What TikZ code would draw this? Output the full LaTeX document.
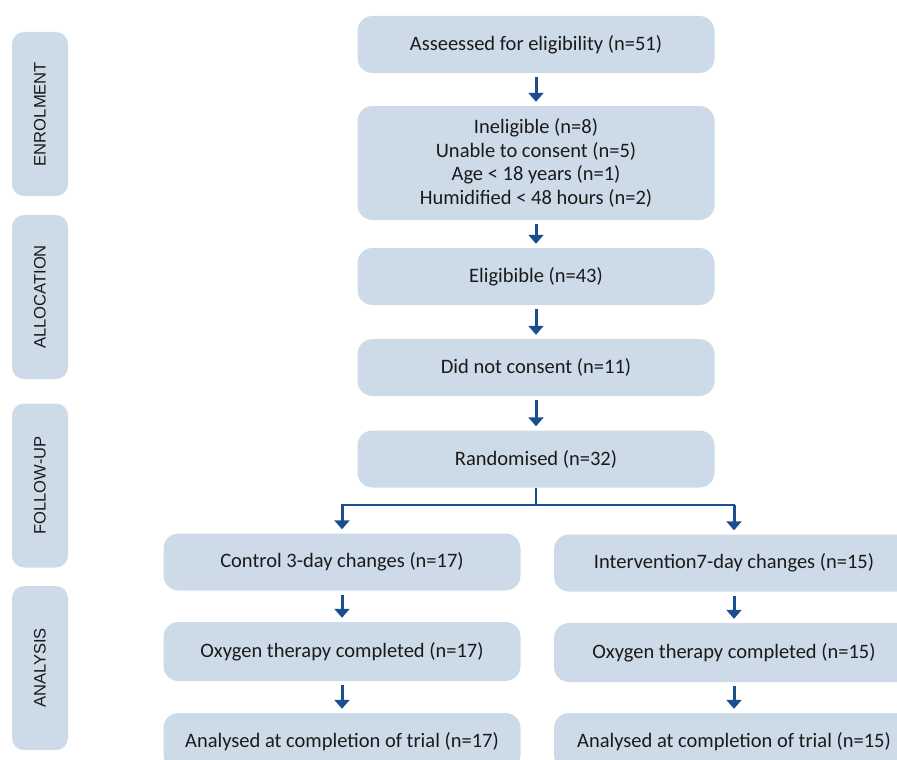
\documentclass[tikz,border=0pt]{standalone}
\usepackage{fontspec}
\setmainfont{Carlito}
\newfontfamily\phasefont{Liberation Sans}
\usepackage{xcolor}
\usetikzlibrary{arrows.meta, positioning}

\definecolor{boxfill}{HTML}{CDDBE8}
\definecolor{arrowblue}{HTML}{1B4E8F}
\definecolor{textgrey}{HTML}{1A1A1A}

\tikzset{
  stage/.style={rounded corners=15pt, fill=boxfill, text=textgrey, inner sep=0pt,
    minimum width=357pt, minimum height=57pt, align=center,
    font=\fontsize{20.5}{23.5}\selectfont},
  phase/.style={rounded corners=12pt, fill=boxfill, text=textgrey, rotate=90,
    minimum width=164pt, minimum height=56pt,
    font=\phasefont\fontsize{16.6}{18}\selectfont},
  flow/.style={draw=arrowblue, line width=3pt, -{Triangle[width=15pt,length=9pt]},
    shorten <=4pt, shorten >=4pt},
  branch/.style={draw=arrowblue, line width=2pt},
}

\begin{document}
\begin{tikzpicture}[x=1pt, y=-1pt]
  \useasboundingbox (0,0) rectangle (897,760);

  % phases on the left
  \node[phase] (enrol) at (40,114) {ENROLMENT};
  \node[phase] (alloc) at (40,297) {ALLOCATION};
  \node[phase] (follow) at (40,485.5) {FOLLOW-UP};
  \node[phase] (analys) at (40,668) {ANALYSIS};

  % main column
  \node[stage] (assess) at (536,44.5) {Asseessed for eligibility (n=51)};
  \node[stage, minimum height=114pt] (inelig) at (536,163) {Ineligible (n=8)\\Unable to consent (n=5)\\Age < 18 years (n=1)\\Humidified < 48 hours (n=2)};
  \node[stage] (elig) at (536,276.5) {Eligibible (n=43)};
  \node[stage] (nocons) at (536,367.5) {Did not consent (n=11)};
  \node[stage] (rand) at (536,459) {Randomised (n=32)};

  % two arms
  \node[stage] (ctrl) at (342,562) {Control 3-day changes (n=17)};
  \node[stage, minimum width=360pt] (interv) at (734,563) {Intervention7-day changes (n=15)};
  \node[stage, minimum height=59pt] (oxyL) at (342,651.5) {Oxygen therapy completed (n=17)};
  \node[stage, minimum width=360pt, minimum height=59pt] (oxyR) at (734,652.5) {Oxygen therapy completed (n=15)};
  \node[stage] (anaL) at (342,741.5) {Analysed at completion of trial (n=17)};
  \node[stage, minimum width=360pt] (anaR) at (734,741.5) {Analysed at completion of trial (n=15)};

  \draw[flow] (assess) -- (inelig);
  \draw[flow] (inelig) -- (elig);
  \draw[flow] (elig) -- (nocons);
  \draw[flow] (nocons) -- (rand);

  \coordinate (split) at (536,505);
  \coordinate (splitL) at (split -| ctrl);
  \coordinate (splitR) at (split -| interv);
  \draw[branch] (rand) -- (split);
  \draw[branch, line cap=rect] (splitL) -- (splitR);
  \draw[flow, shorten <=0pt] (splitL) -- (ctrl);
  \draw[flow, shorten <=0pt] (splitR) -- (interv);

  \draw[flow] (ctrl) -- (oxyL);
  \draw[flow] (oxyL) -- (anaL);
  \draw[flow] (interv) -- (oxyR);
  \draw[flow] (oxyR) -- (anaR);
\end{tikzpicture}
\end{document}
